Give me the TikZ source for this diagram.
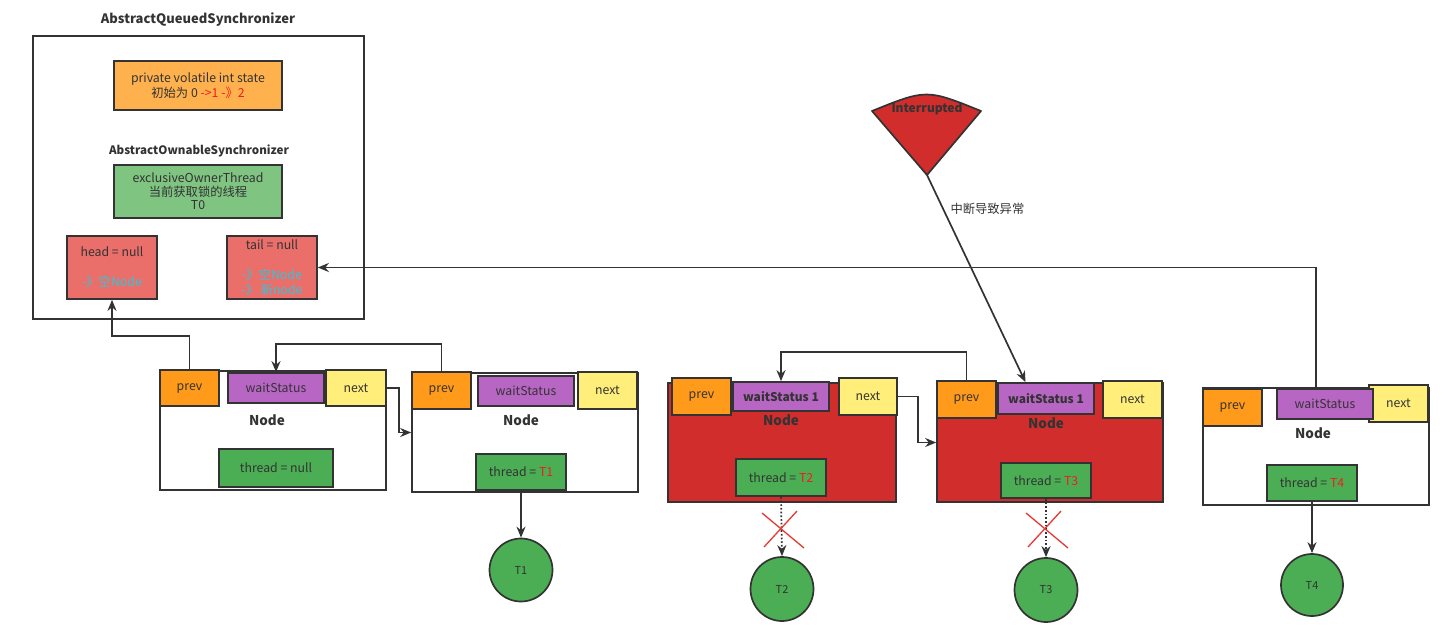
\documentclass[tikz,border=0pt]{standalone}
\usepackage{fontspec}
\setmainfont{Noto Sans CJK SC}
\usetikzlibrary{arrows.meta,calc,shapes.geometric}
\definecolor{ink}{HTML}{333333}
\definecolor{stateorange}{HTML}{FFB14E}
\definecolor{eotgreen}{HTML}{7FC481}
\definecolor{headred}{HTML}{EA6F6B}
\definecolor{cyantxt}{HTML}{36C3D6}
\definecolor{prevorange}{HTML}{FF9A1A}
\definecolor{wspurple}{HTML}{B866C4}
\definecolor{nextyellow}{HTML}{FFEE7A}
\definecolor{thgreen}{HTML}{4BAE54}
\definecolor{nodered}{HTML}{D12D2D}
\definecolor{txtred}{HTML}{F01E1E}
\definecolor{xred}{HTML}{E53935}
\tikzset{
  x=1pt, y=-1pt,
  every node/.style={text=ink, font=\fontsize{12.3}{15}\selectfont},
  box/.style={draw=ink, line width=1.7pt, inner sep=0pt, align=center},
  outerbox/.style={box, fill=white},
  rednode/.style={box, fill=nodered},
  prevbox/.style={box, fill=prevorange},
  wsbox/.style={box, fill=wspurple},
  nextbox/.style={box, fill=nextyellow},
  thbox/.style={box, fill=thgreen},
  thcircle/.style={draw=ink, line width=1.7pt, fill=thgreen, ellipse, inner sep=0pt, font=\fontsize{11}{12}\selectfont},
  boldlbl/.style={font=\fontsize{11.6}{14}\selectfont\bfseries},
  nodelbl/.style={font=\fontsize{13.5}{15}\selectfont\bfseries},
  conn/.style={draw=ink, line width=1.7pt, -{Stealth[length=11pt,width=9pt]}},
  dotconn/.style={conn, dotted},
  xmark/.style={draw=xred, line width=1.3pt},
}
\begin{document}
\begin{tikzpicture}
\useasboundingbox (0,0) rectangle (1450,637);

% AQS
\node[font=\fontsize{13}{15}\selectfont\bfseries] (aqstitle) at (198,20) {AbstractQueuedSynchronizer};
\node[outerbox, minimum width=331pt, minimum height=283pt] (aqs) at (198.5,177.5) {};
\node[box, fill=stateorange, minimum width=168pt, minimum height=49pt] (state) at (198,85.5)
  {private volatile int state\\初始为 0 \textcolor{txtred}{->1 -》2}};
\node[boldlbl] (aoslbl) at (199,151) {AbstractOwnableSynchronizer};
\node[box, fill=eotgreen, minimum width=168pt, minimum height=53pt] (eot) at (198,191.5)
  {exclusiveOwnerThread\\[-1.5pt]当前获取锁的线程\\[-1.5pt]T0};
\node[box, fill=headred, minimum width=90pt, minimum height=63pt] (head) at (112,267.5)
  {head = null\\[15pt]\textcolor{cyantxt}{-》空Node}};
\node[box, fill=headred, minimum width=90pt, minimum height=63pt] (tail) at (272,267.5)
  {tail = null\\[15pt]\textcolor{cyantxt}{-》空Node}\\\textcolor{cyantxt}{-》 新node}};

% Node 1
\node[outerbox, minimum width=226pt, minimum height=119pt] (n1) at (273,430.5) {};
\node[prevbox, minimum width=59pt, minimum height=36pt] (prev1) at (189.5,388) {prev};
\node[wsbox, minimum width=96pt, minimum height=30pt] (ws1) at (276,388) {waitStatus};
\node[nextbox, minimum width=60pt, minimum height=36pt] (next1) at (356,388) {next};
\node[nodelbl] (lbl1) at (267,420) {Node};
\node[thbox, minimum width=114pt, minimum height=38pt] (th1) at (276,468) {thread = null};

% Node 2
\node[outerbox, minimum width=226pt, minimum height=119pt] (n2) at (525,432.5) {};
\node[prevbox, minimum width=59pt, minimum height=37pt] (prev2) at (441.5,390.5) {prev};
\node[wsbox, minimum width=96pt, minimum height=30pt] (ws2) at (526,391) {waitStatus};
\node[nextbox, minimum width=59pt, minimum height=37pt] (next2) at (607.5,390.5) {next};
\node[nodelbl] (lbl2) at (521,420) {Node};
\node[thbox, minimum width=90pt, minimum height=36pt] (th2) at (521,472) {thread = \textcolor{txtred}{T1}};

% Node 3
\node[rednode, minimum width=228pt, minimum height=119pt] (n3) at (782,442.5) {};
\node[prevbox, minimum width=59pt, minimum height=37pt] (prev3) at (701.5,396.5) {prev};
\node[wsbox, minimum width=96pt, minimum height=29pt, font=\fontsize{12}{15}\selectfont\bfseries] (ws3) at (781,396.5) {waitStatus 1};
\node[nextbox, minimum width=58pt, minimum height=37pt] (next3) at (868,396.5) {next};
\node[nodelbl] (lbl3) at (781,420) {Node};
\node[thbox, minimum width=90pt, minimum height=37pt] (th3) at (781,477.5) {thread = \textcolor{txtred}{T2}};

% Node 4
\node[rednode, minimum width=226pt, minimum height=119pt] (n4) at (1050,442.5) {};
\node[prevbox, minimum width=59pt, minimum height=37pt] (prev4) at (966.5,399.5) {prev};
\node[wsbox, minimum width=96pt, minimum height=31pt, font=\fontsize{12}{15}\selectfont\bfseries] (ws4) at (1046,398.5) {waitStatus 1};
\node[nextbox, minimum width=59pt, minimum height=37pt] (next4) at (1132.5,399.5) {next};
\node[nodelbl] (lbl4) at (1046,423) {Node};
\node[thbox, minimum width=90pt, minimum height=35pt] (th4) at (1046,480.5) {thread = \textcolor{txtred}{T3}};

% Node 5
\node[outerbox, minimum width=226pt, minimum height=117pt] (n5) at (1316,446.5) {};
\node[prevbox, minimum width=59pt, minimum height=37pt] (prev5) at (1232.5,407.5) {prev};
\node[nextbox, minimum width=59pt, minimum height=37pt] (next5) at (1398.5,403.5) {next};
\node[wsbox, minimum width=96pt, minimum height=30pt] (ws5) at (1325,404) {waitStatus};
\node[nodelbl] (lbl5) at (1313,433) {Node};
\node[thbox, minimum width=90pt, minimum height=36pt] (th5) at (1312,483) {thread = \textcolor{txtred}{T4}};

% thread circles
\node[thcircle, minimum width=63pt, minimum height=63pt] (c1) at (521,570) {T1};
\node[thcircle, minimum width=63pt, minimum height=64pt] (c2) at (782,589) {T2};
\node[thcircle, minimum width=63pt, minimum height=64pt] (c3) at (1046,590) {T3};
\node[thcircle, minimum width=62pt, minimum height=62pt] (c4) at (1312,585) {T4};

% Interrupted fan
\coordinate (fanapex) at (927,175);
\coordinate (fanleft) at (872,111);
\coordinate (fanright) at (981,111);
\draw[draw=ink, line width=1.7pt, fill=nodered, line join=round] (fanleft) -- (fanapex) -- (fanright) .. controls (926.5,89) .. (fanleft) -- cycle;
\node[font=\fontsize{12}{13}\selectfont\bfseries] (intr) at (927,109) {Interrupted};
\node[anchor=west] (intrlbl) at (947,209) {中断导致异常};

% connectors
\draw[conn] (prev1.north) -- ++(0,-33) -| (head.south);
\draw[conn] (prev2.north) -- ++(0,-27) -| (ws1.north);
\draw[conn] (next1.east) -- ++(12,0) |- (n2.west);
\draw[conn] (next3.east) -- ++(20,0) |- (n4.west);
\draw[conn] (prev4.north) -- ++(0,-28) -| (ws3.north);
\draw[conn] (ws5.north -| n5.north) |- (tail.east);
\draw[conn] (fanapex) -- ($(ws4.north west)!0.29!(ws4.north east)$);

\draw[conn] (th2.south) -- (c1.north);
\draw[dotconn] (th3.south) -- (c2.north);
\draw[dotconn] (th4.south) -- (c3.north);
\draw[conn] (th5.south) -- (c4.north);

% red crosses
\coordinate (x2) at (782,530);
\coordinate (x3) at (1046,530);
\draw[xmark] ($(x2)+(-20,-17)$) -- ($(x2)+(22,18)$);
\draw[xmark] ($(x2)+(15,-19)$) -- ($(x2)+(-18,17)$);
\draw[xmark] ($(x3)+(-20,-17)$) -- ($(x3)+(22,18)$);
\draw[xmark] ($(x3)+(15,-19)$) -- ($(x3)+(-18,17)$);
\end{tikzpicture}
\end{document}
